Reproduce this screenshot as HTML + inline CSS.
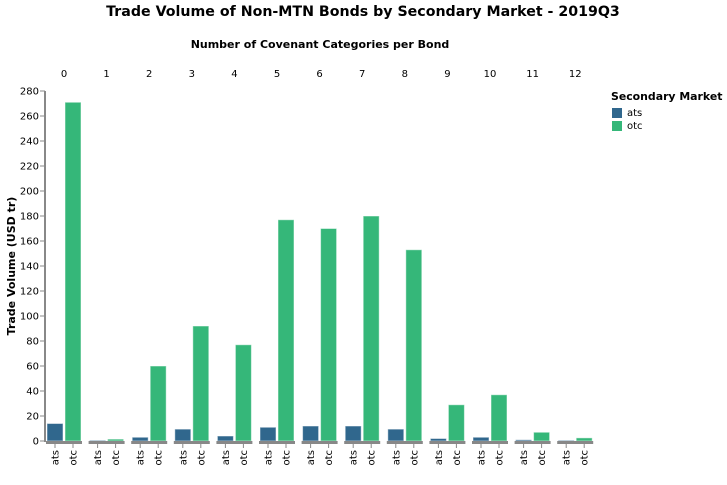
<!DOCTYPE html>
<html><head><meta charset="utf-8"><style>
body{margin:0;background:#fff;}
svg{display:block;font-family:"DejaVu Sans","Liberation Sans",sans-serif;}
</style></head><body>
<svg id="chart" width="727" height="485">
<text x="363" y="16" text-anchor="middle" font-size="14.2" font-weight="bold">Trade Volume of Non-MTN Bonds by Secondary Market - 2019Q3</text>
<text x="320" y="48" text-anchor="middle" font-size="11" font-weight="bold">Number of Covenant Categories per Bond</text>
<text transform="translate(15,266) rotate(-90)" text-anchor="middle" font-size="11" font-weight="bold">Trade Volume (USD tr)</text>
<g>
<text x="611" y="100" font-size="10.9" font-weight="bold">Secondary Market</text>
<rect x="612" y="108" width="10" height="10" fill="#30678d"/>
<text x="627" y="116" font-size="10">ats</text>
<rect x="612" y="121" width="10" height="10" fill="#35b779"/>
<text x="627" y="129" font-size="10">otc</text>
</g>
<g id="plot"></g>
</svg>
<script>
const categories=["0","1","2","3","4","5","6","7","8","9","10","11","12"];
const atsValues=[14,0.5,3,9.5,4,11,12,12,9.5,2,3,1,0.5];
const otcValues=[271,1.5,60,92,77,177,170,180,153,29,37,7,2.5];
const yTicks=[0,20,40,60,80,100,120,140,160,180,200,220,240,260,280];
const NS="http://www.w3.org/2000/svg";
const g=document.getElementById('plot');
const y0=441,yTop=91,yMax=280;
const y=v=>y0-(v/yMax)*(y0-yTop);
const colX=i=>46+i*42.6;
function mk(t,a){const e=document.createElementNS(NS,t);for(const k in a)e.setAttribute(k,a[k]);g.appendChild(e);return e;}
let ax=mk('line',{x1:45,x2:45,y1:yTop,y2:y0+1,stroke:'#888','stroke-width':2});


yTicks.forEach(t=>{
 const l=mk('line',{x1:40,x2:45,y1:y(t),y2:y(t),stroke:'#888'});
 
 
 const tx=mk('text',{x:39,y:y(t)+3.5,'text-anchor':'end','font-size':10});
 tx.textContent=t;
 
 
});
categories.forEach((c,i)=>{
 const x=colX(i);
 const h=mk('text',{x:x+18,y:77,'text-anchor':'middle','font-size':10});
 h.textContent=c;
 
 
 [[atsValues[i],'#30678d',1,'ats'],[otcValues[i],'#35b779',19,'otc']].forEach(([v,col,off,nm])=>{
  const b=mk('rect',{x:x+off,y:y(v),width:16,height:Math.max(y0-y(v),0.5),fill:col,stroke:'rgba(255,255,255,0.5)','stroke-width':1});
  
  
  const tk=mk('line',{x1:x+off+8,x2:x+off+8,y1:y0,y2:y0+7,stroke:'#888'});
  
  
  const lb=mk('text',{transform:`translate(${x+off+11.5},${y0+9}) rotate(-90)`,'text-anchor':'end','font-size':10});
  lb.textContent=nm;
  
  
 });
 const d=mk('line',{x1:x,x2:x+36,y1:y0+1.5,y2:y0+1.5,stroke:'#888','stroke-width':3});
 
 
});
</script>
</body></html>
